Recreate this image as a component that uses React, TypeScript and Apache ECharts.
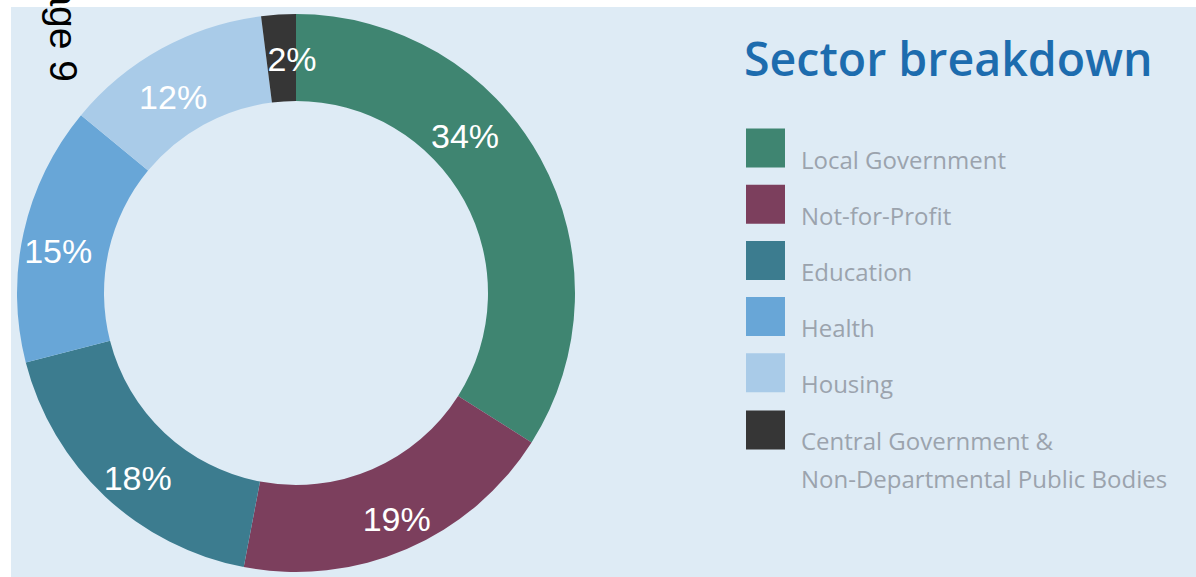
import React, { useEffect, useRef } from "react";
import * as echarts from "echarts";

const categories = [
  "Local Government",
  "Not-for-Profit",
  "Education",
  "Health",
  "Housing",
  "Central Government &\nNon-Departmental Public Bodies",
];
const values = [34, 19, 18, 15, 12, 2];
const colors = ["#3f8571", "#7c3f5d", "#3c7c8f", "#68a6d7", "#a9cbe8", "#363636"];
// label nudges (px) from the ring's mid-point
const labelNudges = [
  [-40, -42],
  [6, 7],
  [5, 11],
  [-5, 10],
  [-8, 13],
  [11, 4],
];

const legendFormatter = (name: string) =>
  "{s| }\n" +
  name
    .split("\n")
    .map((line) => `{t|${line}}`)
    .join("\n");

export default function App() {
  const ref = useRef<HTMLDivElement>(null);
  useEffect(() => {
    if (!ref.current) return;
    const chart = echarts.init(ref.current, undefined, { renderer: "svg" });
    const textBase = {
      fontSize: 24,
      color: "#9ba3ad",
      fontFamily: "Open Sans",
    };
    chart.setOption({
      animation: false,
      backgroundColor: "#ffffff",
      title: {
        text: "Sector breakdown",
        left: 744,
        top: 34,
        padding: 0,
        textStyle: {
          fontFamily: "Open Sans",
          fontWeight: 600,
          fontSize: 46.5,
          color: "#1d6cae",
        },
      },
      graphic: [
        {
          type: "rect",
          z: -10,
          silent: true,
          shape: { x: 11, y: 7, width: 1185, height: 570 },
          style: { fill: "#deebf5" },
        },
        {
          type: "text",
          z: 100,
          x: 44,
          y: 82,
          rotation: -Math.PI / 2,
          style: {
            text: "Page 9",
            font: "39px 'Liberation Sans', Arial, sans-serif",
            fill: "#000000",
            align: "right",
            verticalAlign: "bottom",
          },
        },
      ],
      legend: [
        {
          data: categories.slice(0, 5),
          orient: "vertical",
          left: 746,
          top: 122,
          padding: 0,
          itemWidth: 39,
          itemHeight: 39,
          itemGap: 7.2,
          icon: "rect",
          selectedMode: false,
          formatter: legendFormatter,
          textStyle: {
            ...textBase,
            padding: [0, 0, 0, 11],
            rich: {
              s: { ...textBase, lineHeight: 22 },
              t: { ...textBase, lineHeight: 28 },
            },
          },
        },
        {
          data: categories.slice(5),
          orient: "vertical",
          left: 746,
          top: 380,
          padding: 0,
          itemWidth: 39,
          itemHeight: 39,
          icon: "rect",
          selectedMode: false,
          formatter: legendFormatter,
          textStyle: {
            ...textBase,
            padding: [0, 0, 0, 11],
            rich: {
              s: { ...textBase, lineHeight: 58 },
              t: { ...textBase, lineHeight: 38 },
            },
          },
        },
      ],
      series: [
        {
          type: "pie",
          center: [296, 293],
          radius: [192, 279],
          startAngle: 90,
          clockwise: true,
          silent: true,
          avoidLabelOverlap: false,
          label: {
            show: true,
            position: "inside",
            formatter: "{c}%",
            color: "#ffffff",
            fontSize: 34,
            fontFamily: "'Liberation Sans', Arial, sans-serif",
          },
          labelLine: { show: false },
          labelLayout: (params: any) => ({
            dx: labelNudges[params.dataIndex][0],
            dy: labelNudges[params.dataIndex][1],
          }),
          data: categories.map((name, i) => ({
            name,
            value: values[i],
            itemStyle: { color: colors[i] },
          })),
        },
      ],
    });
    return () => chart.dispose();
  }, []);
  return (
    <div
      ref={ref}
      style={{ position: "fixed", left: 0, top: 0, width: 1196, height: 577 }}
    />
  );
}
